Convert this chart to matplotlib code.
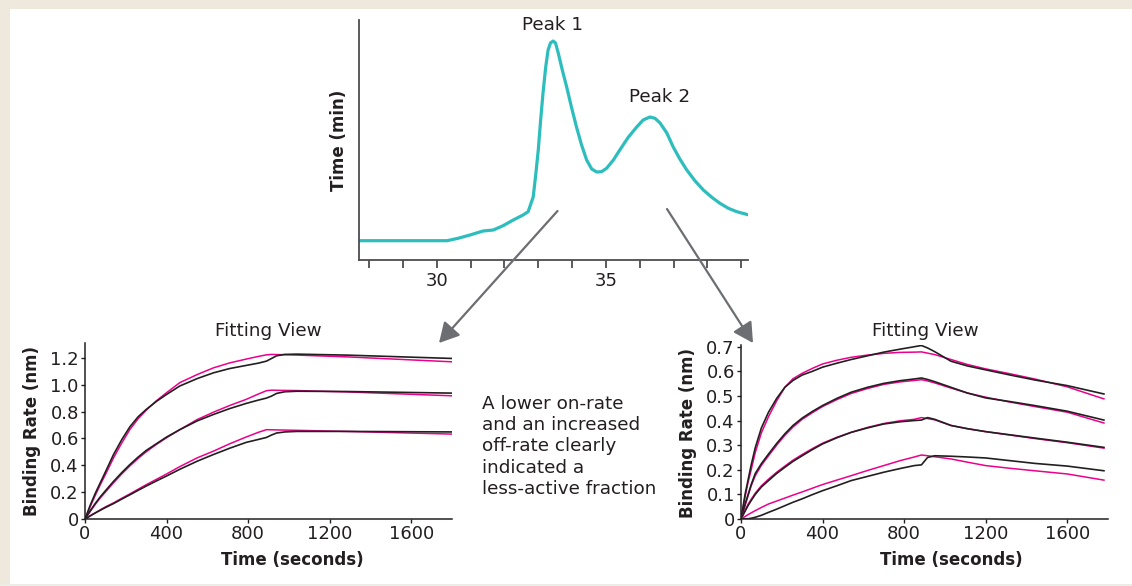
import matplotlib
matplotlib.use("Agg")
import matplotlib.pyplot as plt
from matplotlib.patches import Rectangle, FancyArrowPatch

plt.rcParams["font.family"] = ["DejaVu Sans"]

W, H = 1132, 586

# chromatogram (elution time, signal in arbitrary units)
CHROM_X = [27.7, 30.3, 30.63, 30.98, 31.37, 31.67, 31.96, 32.26, 32.55, 32.7, 32.85,
           32.93, 33.0, 33.07, 33.14, 33.22, 33.29, 33.36, 33.44, 33.51, 33.59,
           33.71, 33.84, 33.98, 34.13, 34.28, 34.43, 34.58, 34.73, 34.87, 35.02,
           35.22, 35.41, 35.66, 35.91, 36.1, 36.3, 36.45, 36.6, 36.8, 36.99,
           37.19, 37.39, 37.63, 37.88, 38.13, 38.37, 38.62, 38.87, 39.23]
CHROM_Y = [19.3, 19.3, 21.7, 25, 29, 30, 34.3, 40, 45, 48.3, 63,
           87, 110, 140, 167, 193, 210, 217, 219, 217, 207,
           190, 173, 153, 133, 115, 100, 91, 88, 88.3, 91.7,
           100, 110, 122.7, 133, 140, 143, 141.7, 137, 127, 113,
           100.7, 90, 79.3, 70, 62.7, 56.7, 51.7, 48.3, 45]

# fitting view, peak 1
T_LEFT = [0, 25, 50, 75, 100, 140, 180, 220, 260, 300, 350, 400, 465, 550, 630, 710,
          790, 850, 890, 915, 940, 980, 1040, 1280, 1800]
L1_DATA = [0, 0.1, 0.19, 0.27, 0.35, 0.48, 0.59, 0.686, 0.76, 0.815, 0.875, 0.927, 0.99,
           1.045, 1.088, 1.12, 1.143, 1.16, 1.175, 1.195, 1.215, 1.225, 1.227, 1.22, 1.195]
L1_FIT = [0, 0.09, 0.175, 0.255, 0.33, 0.455, 0.565, 0.666, 0.745, 0.81, 0.88, 0.94, 1.015,
          1.075, 1.125, 1.162, 1.19, 1.21, 1.222, 1.225, 1.224, 1.223, 1.22, 1.207, 1.17]
L2_DATA = [0, 0.06, 0.115, 0.165, 0.21, 0.28, 0.345, 0.405, 0.46, 0.51, 0.56, 0.61, 0.665,
           0.73, 0.778, 0.822, 0.86, 0.885, 0.9, 0.915, 0.935, 0.947, 0.951, 0.949, 0.937]
L2_FIT = [0, 0.055, 0.108, 0.157, 0.2, 0.27, 0.335, 0.395, 0.45, 0.5, 0.555, 0.605, 0.665,
          0.74, 0.795, 0.845, 0.89, 0.93, 0.955, 0.959, 0.958, 0.957, 0.956, 0.946, 0.917]
L3_DATA = [0, 0.023, 0.045, 0.065, 0.085, 0.115, 0.148, 0.18, 0.213, 0.245, 0.283, 0.32, 0.37,
           0.43, 0.48, 0.527, 0.57, 0.592, 0.607, 0.625, 0.64, 0.648, 0.652, 0.652, 0.648]
L3_FIT = [0, 0.023, 0.045, 0.068, 0.09, 0.12, 0.154, 0.187, 0.221, 0.255, 0.295, 0.335, 0.39,
          0.455, 0.505, 0.56, 0.61, 0.645, 0.665, 0.664, 0.663, 0.662, 0.66, 0.652, 0.632]

# fitting view, peak 2
T_RIGHT = [0, 20, 35, 50, 70, 100, 135, 175, 215, 255, 300, 350, 400, 470, 540, 620, 700,
           780, 850, 885, 915, 950, 1030, 1110, 1200, 1320, 1440, 1600, 1780]
R1_DATA = [0, 0.1, 0.16, 0.22, 0.29, 0.37, 0.434, 0.49, 0.535, 0.563, 0.585, 0.6, 0.617,
           0.633, 0.648, 0.663, 0.678, 0.69, 0.7, 0.705, 0.695, 0.68, 0.641, 0.622, 0.606,
           0.585, 0.565, 0.542, 0.508]
R1_FIT = [0, 0.09, 0.15, 0.2, 0.27, 0.35, 0.416, 0.48, 0.535, 0.57, 0.592, 0.612, 0.63,
          0.645, 0.657, 0.666, 0.673, 0.677, 0.678, 0.679, 0.674, 0.668, 0.648, 0.628, 0.61,
          0.59, 0.569, 0.537, 0.488]
R2_DATA = [0, 0.06, 0.1, 0.14, 0.185, 0.225, 0.264, 0.307, 0.346, 0.38, 0.41, 0.437, 0.461,
           0.49, 0.515, 0.535, 0.551, 0.562, 0.569, 0.573, 0.567, 0.558, 0.535, 0.512, 0.492,
           0.477, 0.461, 0.438, 0.402]
R2_FIT = [0, 0.055, 0.095, 0.135, 0.176, 0.218, 0.257, 0.3, 0.34, 0.374, 0.405, 0.432, 0.457,
          0.485, 0.51, 0.53, 0.547, 0.557, 0.563, 0.566, 0.561, 0.553, 0.532, 0.512, 0.495,
          0.475, 0.457, 0.434, 0.39]
R3_DATA = [0, 0.032, 0.055, 0.075, 0.1, 0.13, 0.156, 0.185, 0.21, 0.234, 0.257, 0.282, 0.305,
           0.33, 0.352, 0.37, 0.386, 0.395, 0.4, 0.402, 0.412, 0.405, 0.38, 0.367, 0.355,
           0.342, 0.329, 0.312, 0.291]
R3_FIT = [0, 0.035, 0.06, 0.08, 0.105, 0.135, 0.162, 0.19, 0.215, 0.239, 0.262, 0.286, 0.308,
          0.332, 0.352, 0.372, 0.388, 0.399, 0.405, 0.412, 0.408, 0.403, 0.38, 0.367, 0.355,
          0.341, 0.327, 0.31, 0.288]
R4_DATA = [0, 0, 0.001, 0.003, 0.007, 0.015, 0.027, 0.04, 0.054, 0.068, 0.082, 0.099, 0.115,
           0.135, 0.156, 0.173, 0.19, 0.205, 0.217, 0.22, 0.25, 0.257, 0.255, 0.252, 0.248,
           0.237, 0.226, 0.215, 0.196]
R4_FIT = [0, 0.01, 0.018, 0.025, 0.034, 0.047, 0.061, 0.073, 0.085, 0.097, 0.11, 0.125, 0.14,
          0.158, 0.176, 0.197, 0.217, 0.237, 0.252, 0.26, 0.257, 0.253, 0.244, 0.231, 0.217,
          0.206, 0.196, 0.183, 0.158]

TEAL = "#2dbdbd"
PINK = "#ec008c"
INK = "#231f20"
ARROW = "#6d6e71"
BEIGE = "#efe8dc"

FS = 13.2     # regular text
FS_B = 12     # bold axis labels
FS_T = 13     # tick labels


def px(x, y):
    # pixel coords (from top-left) -> figure fraction
    return x / W, 1 - y / H


def box(l, t, r, b):
    return [l / W, 1 - b / H, (r - l) / W, (b - t) / H]


fig = plt.figure(figsize=(W / 100, H / 100), dpi=100)
fig.patch.set_facecolor("white")

# beige frame
fig.add_artist(Rectangle((0, 1 - 9 / H), 1, 9 / H, transform=fig.transFigure, color=BEIGE, lw=0))
fig.add_artist(Rectangle((0, 0), 10 / W, 1, transform=fig.transFigure, color=BEIGE, lw=0))
fig.add_artist(Rectangle((0, 0), 1, 2.5 / H, transform=fig.transFigure, color="#ecebe4", lw=0))

# --- chromatogram ---
ax0 = fig.add_axes(box(359, 20, 748, 260))
ax0.plot(CHROM_X, CHROM_Y, color=TEAL, lw=2.3, solid_capstyle="round", solid_joinstyle="round")
ax0.set_xlim(27.7, 39.2)
ax0.set_ylim(0, 240)
for s in ["top", "right"]:
    ax0.spines[s].set_visible(False)
for s in ["left", "bottom"]:
    ax0.spines[s].set_color("#4d4d4f")
    ax0.spines[s].set_linewidth(1.3)
ax0.set_yticks([])
ax0.set_xticks(range(28, 40))
ax0.set_xticklabels(["30" if v == 30 else "35" if v == 35 else "" for v in range(28, 40)])
ax0.tick_params(axis="x", direction="out", length=5.5, width=1.3, color="#4d4d4f",
                labelsize=FS_T, labelcolor=INK, pad=3)
ax0.set_facecolor("none")

fig.text(*px(553, 25), "Peak 1", ha="center", va="center", fontsize=FS, color=INK)
fig.text(*px(660, 97), "Peak 2", ha="center", va="center", fontsize=FS, color=INK)
fig.text(*px(339, 140), "Time (min)", ha="center", va="center", rotation=90,
         fontsize=FS_B, fontweight="bold", color=INK)


def fitting(rect, t, pairs, ylim, yticks, ylabels, title_xy, xlab_xy, ylab_xy):
    ax = fig.add_axes(rect)
    for data, fit in pairs:
        ax.plot(t, fit, color=PINK, lw=1.1, solid_joinstyle="round")
        ax.plot(t, data, color=INK, lw=1.2, solid_joinstyle="round")
    ax.set_xlim(0, 1800)
    ax.set_ylim(*ylim)
    ax.set_xticks([0, 400, 800, 1200, 1600])
    ax.set_yticks(yticks)
    ax.set_yticklabels(ylabels)
    for s in ["top", "right"]:
        ax.spines[s].set_visible(False)
    for s in ["left", "bottom"]:
        ax.spines[s].set_color(INK)
        ax.spines[s].set_linewidth(1.1)
    ax.tick_params(direction="out", length=3, width=1, color=INK, labelsize=FS_T,
                   labelcolor=INK, pad=1.5)
    ax.set_facecolor("none")
    fig.text(*px(*title_xy), "Fitting View", ha="center", va="center", fontsize=FS, color=INK)
    fig.text(*px(*xlab_xy), "Time (seconds)", ha="center", va="center",
             fontsize=FS_B, fontweight="bold", color=INK)
    fig.text(*px(*ylab_xy), "Binding Rate (nm)", ha="center", va="center", rotation=90,
             fontsize=FS_B, fontweight="bold", color=INK)
    return ax


fitting(box(85, 343, 452, 519), T_LEFT,
        [(L1_DATA, L1_FIT), (L2_DATA, L2_FIT), (L3_DATA, L3_FIT)],
        (0, 1.31), [0, 0.2, 0.4, 0.6, 0.8, 1.0, 1.2],
        ["0", "0.2", "0.4", "0.6", "0.8", "1.0", "1.2"],
        (268, 331), (292, 560), (32, 431))

fitting(box(741, 345, 1108, 519), T_RIGHT,
        [(R1_DATA, R1_FIT), (R2_DATA, R2_FIT), (R3_DATA, R3_FIT), (R4_DATA, R4_FIT)],
        (0, 0.707), [0, 0.1, 0.2, 0.3, 0.4, 0.5, 0.6, 0.7],
        ["0", "0.1", "0.2", "0.3", "0.4", "0.5", "0.6", "0.7"],
        (925, 331), (951, 560), (688, 433))

# annotation text
fig.text(*px(482, 395), "A lower on-rate\nand an increased\noff-rate clearly\nindicated a\nless-active fraction",
         ha="left", va="top", fontsize=FS, color=INK, linespacing=1.23)

# arrows from peaks to fitting views
for start, end in [((557.5, 211), (439, 343)), ((667, 209), (753, 343))]:
    fig.add_artist(FancyArrowPatch(px(*start), px(*end), transform=fig.transFigure,
                                   arrowstyle="-|>,head_length=1.1,head_width=0.6",
                                   mutation_scale=11, color=ARROW, lw=1.6,
                                   shrinkA=0, shrinkB=0))

fig.savefig("out.png", dpi=100)
